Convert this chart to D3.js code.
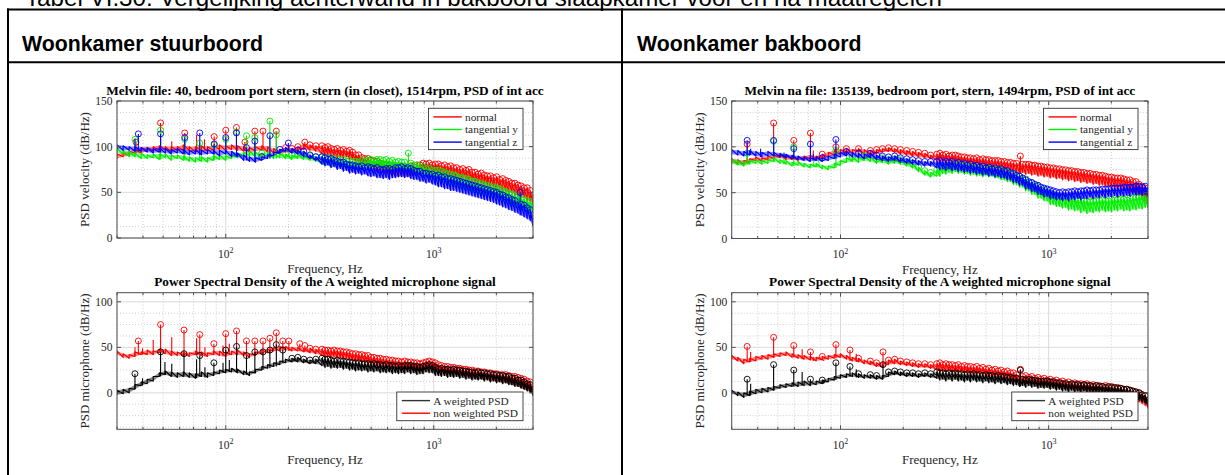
<!DOCTYPE html>
<html><head><meta charset="utf-8">
<script src="https://cdn.jsdelivr.net/npm/d3@7"></script>
<style>body{margin:0;background:#fff}svg{display:block}</style>
</head><body><svg id="c" width="1225" height="475"></svg>
<script>
// ---------------- DATA ----------------
const captionText = "Tabel VI.30: Vergelijking achterwand in bakboord slaapkamer voor en na maatregelen";
const headers = ["Woonkamer stuurboord", "Woonkamer bakboord"];
const titles = [
  "Melvin file: 40, bedroom port stern, stern (in closet), 1514rpm, PSD of int acc",
  "Power Spectral Density of the A weighted microphone signal",
  "Melvin na file: 135139, bedroom port, stern, 1494rpm, PSD of int acc",
  "Power Spectral Density of the A weighted microphone signal"
];
const yLabels = ["PSD velocity (dB/Hz)", "PSD microphone (dB/Hz)"];
const xLabel = "Frequency, Hz";
const velLegend = ["normal", "tangential y", "tangential z"];
const micLegend = ["A weighted PSD", "non weighted PSD"];
const velYTicks = [0, 50, 100, 150];
const micYTicks = [0, 50, 100];
const velYDomain = [0, 150];
const micYDomain = [-40, 110];
const xDomain = [30, 3000];

// analysis bins (Hz); per bin the trace minimum (lo) and maximum (hi) in dB
const freqs = [30,32.1,34.3,36.6,39.2,41.9,44.8,47.9,51.2,54.7,58.5,62.5,66.8,71.5,76.4,81.7,87.3,93.3,99.8,106.7,
  114,122,130,139,149,159,170,182,194,208,222,237,254,271,
  290,300,310,321,332,344,356,368,381,394,407,421,436,451,466,483,499,516,534,553,
  572,591,612,633,655,677,701,725,750,776,803,830,859,889,919,951,984,1018,1053,1089,
  1127,1166,1206,1247,1290,1335,1381,1429,1478,1529,1582,1636,1693,1751,1811,1874,1939,2006,2075,2146,
  2220,2297,2376,2458,2543,2631,2721,2815,2912,3000];

// --- stuurboord, velocity ---
const stbNormalLo = [87,89,90,93,93,95,95,96,97,94, 96,96,96,94,96,95,96,97,96,97, 96,95,94,95,96,94,93,92,94,93, 95,97,96,95,
  92,90,91,89,90,88,89,87,89,86, 86,83,83,80,80,77,75,75,72,73, 71,71,69,70,68,67,69,67,68,67, 69,69,71,70,72,71,72,70,68,69,
  67,68,66,67,64,65,63,64,61,62, 60,59,60,57,58,55,56,53,54,51, 51,49,50,47,46,44,44,41,40,37];
const stbNormalHi = [92,93,95,97,99,99,100,101,100,100, 100,102,100,100,101,100,101,102,101,102, 101,100,99,100,101,100,98,97,99,98, 100,103,102,101,
  101,99,100,98,97,98,96,97,95,96, 94,91,91,88,87,87,85,84,84,82, 81,80,80,78,79,77,78,78,76,79, 78,80,80,82,81,82,80,81,81,79,
  80,78,79,77,77,75,76,74,75,72, 72,70,71,69,68,68,66,67,64,65, 63,62,60,60,58,57,55,55,52,48];
const stbNormalPeaks = [[37,105],[48.6,126],[55,106],[63.5,115],[72.4,113],[79,108],[88,111],[100,118],[112.6,121],[123.6,105],[138,117],[151,117],[175,117],[240,105]];

const stbTanYLo = [93,92,89,89,87,87,88,86,88,85, 87,85,84,83,84,83,85,86,85,87, 88,89,90,89,88,89,87,88,87,86, 87,86,85,84,
  81,79,80,78,79,77,78,76,77,75, 76,74,76,75,77,75,75,76,77,75, 76,74,75,73,75,73,74,72,72,70, 71,69,69,67,67,65,65,63,62,60,
  60,58,58,56,56,54,54,52,52,50, 50,48,48,46,46,44,44,42,42,40, 39,37,36,34,33,31,30,28,27,25];
const stbTanYHi = [98,96,95,93,93,91,92,92,92,91, 91,90,89,88,89,88,90,91,90,92, 93,94,95,94,93,94,92,93,92,91, 92,91,90,89,
  89,88,87,88,86,87,85,86,84,85, 83,84,83,85,84,85,86,85,86,86, 85,86,84,85,83,84,83,83,81,82, 80,80,78,78,76,76,74,74,74,73,
  72,70,70,69,68,66,66,65,64,62, 62,60,60,58,58,56,56,55,54,52, 51,49,48,47,45,44,42,41,40,38];
const stbTanYPeaks = [[36.6,108],[48.6,118],[63.5,108],[75,104],[88,102],[100,108],[112.6,116],[125.8,112],[138,110],[163,128],[175,113],[755,93]];

const stbTanZLo = [98,96,96,95,95,94,93,94,93,92, 93,92,91,92,91,92,92,90,92,89, 89,85,84,83,85,87,90,93,95,93, 92,89,87,85,
  81,79,80,77,78,75,76,73,74,71, 72,70,71,69,70,68,67,68,66,66, 65,66,64,66,66,67,67,66,67,65, 64,64,62,62,60,61,59,58,56,56,
  54,54,52,52,51,50,49,48,47,46, 45,44,43,42,41,40,39,37,36,34, 33,31,30,28,27,25,23,21,19,13];
const stbTanZHi = [102,101,100,100,99,99,98,99,98,97, 98,97,96,97,96,97,96,96,96,95, 93,91,89,88,89,91,94,97,99,98, 96,95,91,89,
  89,88,86,87,85,84,83,83,81,80, 80,79,78,79,77,78,77,76,77,75, 75,76,76,75,77,77,78,76,77,76, 74,73,73,71,71,70,70,68,69,67,
  67,65,65,64,63,62,61,60,59,58, 57,56,55,54,53,52,51,50,48,47, 45,44,42,41,39,37,36,33,31,25];
const stbTanZPeaks = [[36.6,109],[38,114],[48.6,114],[63.5,110],[75,115],[88,103],[100,110],[112.6,115],[125.8,99],[138,106],[163,112],[200,104],[2600,50]];

// --- stuurboord, microphone ---
const stbAwLo = [-2,-1,0,4,8,10,13,18,20,18, 17,18,17,16,18,17,19,21,22,23, 22,20,19,22,25,27,29,31,33,34, 34,33,32,32,
  30,28,29,27,28,27,28,26,27,25, 26,24,25,24,25,23,24,23,24,22, 23,22,23,21,22,21,22,21,23,21, 22,20,21,21,23,22,22,19,19,18,
  19,17,18,17,18,16,17,15,16,14, 15,14,15,13,14,12,13,11,12,10, 11,9,9,7,7,5,4,2,1,-3];
const stbAwHi = [3,4,5,9,12,15,18,22,24,23, 22,23,22,21,23,22,23,25,26,27, 26,24,23,26,29,31,33,35,37,38, 39,37,36,37,
  38,37,37,36,35,36,35,35,34,34, 33,33,33,32,32,32,31,32,31,31, 30,31,30,30,29,30,29,30,30,30, 29,29,28,29,30,31,30,28,26,27,
  26,26,25,26,25,25,24,24,23,23, 22,23,22,22,21,21,20,20,19,19, 18,18,16,16,14,14,12,10,9,6];
const stbAwPeaks = [[36.6,21],[39.8,16],[48.6,45],[51,34],[55,32],[63,43],[72.4,37],[75,41],[79.4,28],[87.7,33],[97,33],[100,47],[104,36],[112.7,51],[125.8,41],[138,45],[151,45],[163,47],[175,53],[188,47]];

const stbNwLo = [42,39,38,40,42,42,42,44,43,41, 41,41,40,42,41,40,42,41,40,42, 42,41,39,41,43,44,46,46,47,46, 46,45,44,43,
  41,39,40,38,40,38,39,37,38,36, 36,34,35,33,34,32,32,30,31,29, 30,28,29,27,28,26,27,25,27,25, 26,24,25,24,27,26,27,24,24,21,
  21,20,21,19,20,18,19,17,18,16, 17,15,16,14,15,13,14,12,13,11, 11,10,9,8,7,6,4,3,1,-2];
const stbNwHi = [46,43,42,45,45,47,46,48,48,46, 45,45,44,46,45,44,46,46,44,46, 47,45,43,45,47,48,50,51,51,50, 50,49,49,48,
  48,47,47,46,47,46,46,45,45,44, 43,43,42,42,41,41,39,39,38,38, 37,37,36,36,35,35,34,35,34,34, 33,33,32,33,34,35,34,33,31,30,
  29,29,28,28,27,27,26,26,25,25, 24,24,23,23,22,22,21,21,20,20, 20,19,18,18,17,16,15,13,12,8];
const stbNwPeaks = [[36.6,50],[38,57],[39.8,49],[44.8,58],[48.6,75],[55,61],[63,69],[72.4,60],[75,64],[79.4,50],[87.7,54],[97,52],[100,65],[104,54],[112.7,68],[125.8,57],[138,57],[151,57],[163,60],[175,66],[188,57],[201,57],[227,54],[240,52]];

// --- bakboord, velocity ---
const bbkNormalLo = [82,81,80,83,85,84,86,87,88,86, 86,85,86,87,86,87,89,91,92,93, 93,94,92,91,92,94,95,94,92,91, 90,89,88,87,
  85,83,84,82,83,81,83,81,82,80, 81,79,80,78,79,77,78,75,76,74, 75,73,74,72,73,71,72,71,72,70, 71,69,70,68,69,67,68,66,67,65,
  66,64,65,63,64,62,63,61,62,60, 61,59,60,58,59,57,57,55,56,54, 55,53,54,51,51,48,47,43,40,34];
const bbkNormalHi = [87,86,85,87,89,88,90,91,92,91, 90,89,90,91,90,92,94,96,97,98, 97,98,97,96,97,98,99,98,97,96, 95,94,93,91,
  92,93,91,92,90,91,91,90,89,89, 88,88,87,88,86,87,86,86,85,85, 85,84,84,83,83,82,82,83,81,81, 81,80,80,79,79,78,78,77,77,76,
  76,75,75,74,74,73,73,72,72,71, 71,70,70,69,69,68,67,67,66,66, 66,65,64,64,62,62,59,57,55,50];
const bbkNormalPeaks = [[35.6,103],[47.7,126],[59.6,107],[71.7,115],[74,96],[95,100],[731,90]];

const bbkTanYLo = [82,80,79,81,82,81,82,84,82,81, 79,80,78,77,78,76,75,77,80,83, 84,83,85,84,82,83,81,82,81,79, 77,73,69,67,
  68,68,71,70,72,71,73,71,72,70, 71,69,70,68,69,67,69,67,68,66, 66,64,64,62,62,59,59,56,56,52, 52,48,48,44,44,41,41,37,37,35,
  35,33,34,31,32,30,31,28,30,27, 29,28,30,29,31,29,30,29,31,30, 32,30,31,30,32,31,33,32,34,35];
const bbkTanYHi = [87,85,84,85,86,85,86,88,86,85, 83,84,82,81,82,80,79,82,85,88, 89,88,90,89,87,88,86,87,86,84, 82,78,74,72,
  75,77,78,80,79,81,80,81,79,80, 78,79,77,78,76,77,76,77,75,76, 75,75,73,73,71,71,68,68,65,65, 61,61,57,57,53,53,50,50,47,47,
  45,46,44,44,43,43,42,42,41,41, 40,41,41,42,42,42,41,43,42,43, 43,43,42,44,44,45,45,46,46,47];
const bbkTanYPeaks = [[35.6,93],[47.7,106],[53.5,94],[59.6,100],[95,96]];

const bbkTanZLo = [92,91,90,91,90,89,90,90,89,88, 87,86,85,84,85,84,85,87,89,90, 89,88,87,88,86,85,84,85,83,82, 81,80,79,79,
  77,75,76,74,76,74,75,73,74,72, 73,71,72,70,71,69,70,68,69,67, 68,66,66,64,64,61,61,58,58,54, 54,51,51,48,48,45,46,43,44,42,
  43,41,43,41,43,42,44,42,44,43, 45,43,45,44,46,44,46,45,47,45, 47,46,47,46,48,47,48,47,48,46];
const bbkTanZHi = [97,96,95,96,95,94,95,94,93,92, 91,90,89,88,89,88,90,92,94,95, 94,93,92,93,91,90,89,90,88,87, 86,85,84,84,
  84,85,83,84,83,84,82,83,81,82, 80,81,79,80,78,79,77,78,76,77, 75,76,74,74,72,71,69,68,66,64, 62,61,59,58,56,55,54,53,52,51,
  50,51,50,51,51,52,51,52,52,53, 52,53,53,53,54,54,54,55,55,55, 55,56,56,56,56,57,57,56,57,56];
const bbkTanZPeaks = [[35.6,107],[37,98],[41.3,98],[47.7,107],[53.5,93],[59.6,98],[65.4,88],[71.7,103],[74,92],[95,108]];

// --- bakboord, microphone ---
const bbkAwLo = [-1,-3,-5,-3,-1,0,1,3,5,6, 7,7,8,8,9,10,12,14,16,17, 18,17,16,16,15,15,18,20,19,18, 18,17,18,17,
  16,14,15,13,15,13,15,13,14,12, 14,12,14,12,13,11,13,11,12,10, 12,10,11,9,10,8,9,7,8,6, 8,6,7,5,6,5,6,4,5,3,
  4,2,3,1,3,1,2,0,2,1, 1,0,1,-1,0,-1,0,-2,-1,-3, -2,-4,-3,-5,-6,-7,-8,-10,-11,-15];
const bbkAwHi = [3,1,0,2,4,5,6,7,9,10, 11,12,13,12,13,14,16,18,20,21, 22,21,20,20,19,19,23,24,23,22, 22,21,22,21,
  23,22,22,21,22,21,22,21,21,20, 21,20,21,20,20,19,20,19,19,18, 19,18,18,17,17,16,16,15,15,14, 15,14,14,13,13,13,13,12,12,11,
  11,10,10,9,10,9,9,8,9,8, 8,7,8,7,7,6,7,6,6,5, 5,4,4,3,2,1,0,-2,-3,-7];
const bbkAwPeaks = [[35.6,15],[37,10],[47.7,31],[59.6,25],[65.4,23],[71.7,15],[83,13],[95,33],[111,29],[119,26],[160,31],[731,25]];

const bbkNwLo = [37,35,32,34,35,37,37,39,40,41, 39,38,37,36,35,36,37,38,39,37, 35,34,32,31,29,28,31,32,31,30, 29,28,28,27,
  25,23,24,23,24,22,23,22,23,21, 22,20,21,20,21,19,20,18,19,17, 18,16,17,15,15,13,13,11,12,10, 11,9,10,8,9,7,8,6,7,5,
  6,4,5,3,4,2,3,2,3,1, 2,0,1,0,1,-1,0,-2,-1,-3, -2,-4,-4,-6,-7,-9,-10,-12,-14,-17];
const bbkNwHi = [41,39,37,38,40,41,42,43,44,45, 43,42,41,40,39,40,41,42,43,41, 39,38,36,35,33,33,36,37,35,34, 33,32,32,31,
  32,33,31,32,31,31,30,31,29,30, 29,29,28,29,27,28,26,27,25,26, 24,25,23,24,22,22,20,20,18,19, 17,18,16,17,15,16,14,15,13,14,
  12,13,11,12,10,11,10,10,9,10, 8,9,8,8,7,8,6,7,5,6, 5,4,4,3,2,1,0,-2,-3,-7];
const bbkNwPeaks = [[35.6,51],[37,45],[47.7,61],[59.6,52],[65.4,48],[71.7,45],[74,39],[83,35],[95,53],[111,47],[119,43],[160,45],[731,26]];

// ---------------- STYLE / LAYOUT ----------------
const serif = '"Liberation Serif","Times New Roman",serif';
const sans = '"Liberation Sans",Arial,sans-serif';
const RED = "#ff0000", GREEN = "#00ee00", BLUE = "#0000ff", BLACK = "#000000";
const peakMinDistHz = 10;

const panels = [
  {x0:117, x1:533, y0:101, y1:238, yDomain:velYDomain, yTicks:velYTicks, title:titles[0], yLabel:yLabels[0], legendPos:"top",
   series:[
     {color:RED, lo:stbNormalLo, hi:stbNormalHi, peaks:stbNormalPeaks},
     {color:GREEN, lo:stbTanYLo, hi:stbTanYHi, peaks:stbTanYPeaks},
     {color:BLUE, lo:stbTanZLo, hi:stbTanZHi, peaks:stbTanZPeaks}],
   legend:[[velLegend[0],RED],[velLegend[1],GREEN],[velLegend[2],BLUE]]},
  {x0:117, x1:533, y0:292.7, y1:429.3, yDomain:micYDomain, yTicks:micYTicks, title:titles[1], yLabel:yLabels[1], legendPos:"bottom",
   series:[
     {color:RED, lo:stbNwLo, hi:stbNwHi, peaks:stbNwPeaks},
     {color:BLACK, lo:stbAwLo, hi:stbAwHi, peaks:stbAwPeaks}],
   legend:[[micLegend[0],"#333"],[micLegend[1],RED]]},
  {x0:731.7, x1:1148, y0:101, y1:238.5, yDomain:velYDomain, yTicks:velYTicks, title:titles[2], yLabel:yLabels[0], legendPos:"top",
   series:[
     {color:RED, lo:bbkNormalLo, hi:bbkNormalHi, peaks:bbkNormalPeaks},
     {color:GREEN, lo:bbkTanYLo, hi:bbkTanYHi, peaks:bbkTanYPeaks},
     {color:BLUE, lo:bbkTanZLo, hi:bbkTanZHi, peaks:bbkTanZPeaks}],
   legend:[[velLegend[0],RED],[velLegend[1],GREEN],[velLegend[2],BLUE]]},
  {x0:731.7, x1:1148, y0:292.7, y1:429.3, yDomain:micYDomain, yTicks:micYTicks, title:titles[3], yLabel:yLabels[1], legendPos:"bottom",
   series:[
     {color:RED, lo:bbkNwLo, hi:bbkNwHi, peaks:bbkNwPeaks},
     {color:BLACK, lo:bbkAwLo, hi:bbkAwHi, peaks:bbkAwPeaks}],
   legend:[[micLegend[0],"#333"],[micLegend[1],RED]]}
];

// ---------------- DRAW ----------------
const svg = d3.select("#c");
svg.append("rect").attr("width",1225).attr("height",475).attr("fill","#fff");

// document table
svg.append("text").attr("x",25).attr("y",5.5).attr("font-family",sans).attr("font-size",24.2)
  .attr("fill","#000").text(captionText);
const tbl = svg.append("g").attr("stroke","#000").attr("stroke-width",2);
tbl.append("line").attr("x1",7).attr("x2",1225).attr("y1",9.5).attr("y2",9.5);
tbl.append("line").attr("x1",7).attr("x2",1225).attr("y1",62.3).attr("y2",62.3);
tbl.append("line").attr("x1",8).attr("x2",8).attr("y1",8.5).attr("y2",475);
tbl.append("line").attr("x1",622).attr("x2",622).attr("y1",8.5).attr("y2",475);
[[22,headers[0]],[637,headers[1]]].forEach(([x,t])=>{
  svg.append("text").attr("x",x).attr("y",51).attr("font-family",sans).attr("font-weight","bold")
    .attr("font-size",21.3).attr("fill","#000").text(t);
});

function binPoints(lo, hi){
  const pts = [];
  const n = Math.min(freqs.length, lo.length, hi.length);
  for (let i=0;i<n;i++){ pts.push({f:freqs[i], v:lo[i], o:2*i}); pts.push({f:freqs[i], v:hi[i], o:2*i+1}); }
  return pts;
}
function findPeaks(pts, minDist){
  const cand = [];
  for (let i=1;i<pts.length-1;i++){
    if (pts[i].v > pts[i-1].v && pts[i].v >= pts[i+1].v) cand.push(pts[i]);
  }
  cand.sort((a,b)=>b.v-a.v);
  const acc = [];
  cand.forEach(p=>{ if (acc.every(q=>Math.abs(q.f-p.f)>=minDist)) acc.push(p); });
  return acc;
}

panels.forEach((P, pi)=>{
  const g = svg.append("g");
  const x = d3.scaleLog().domain(xDomain).range([P.x0, P.x1]);
  const y = d3.scaleLinear().domain(P.yDomain).range([P.y1, P.y0]);
  const clipId = "clip"+pi;
  g.append("clipPath").attr("id",clipId).append("rect")
    .attr("x",P.x0).attr("y",P.y0).attr("width",P.x1-P.x0).attr("height",P.y1-P.y0);

  // grid
  const xt = x.ticks();
  const xMajor = xt.filter(v=>Math.abs(Math.log10(v)-Math.round(Math.log10(v)))<1e-9);
  const xMinor = xt.filter(v=>!xMajor.includes(v));
  const yMinor = d3.range(-50, 160, 12.5).filter(v=>!P.yTicks.includes(v) && v>P.yDomain[0] && v<P.yDomain[1]);
  const grid = g.append("g");
  xMinor.forEach(v=>grid.append("line").attr("x1",x(v)).attr("x2",x(v)).attr("y1",P.y0).attr("y2",P.y1)
    .attr("stroke","#c4c4c4").attr("stroke-width",0.8).attr("stroke-dasharray","1,2"));
  yMinor.forEach(v=>grid.append("line").attr("x1",P.x0).attr("x2",P.x1).attr("y1",y(v)).attr("y2",y(v))
    .attr("stroke","#c4c4c4").attr("stroke-width",0.8).attr("stroke-dasharray","1,2"));
  xMajor.forEach(v=>grid.append("line").attr("x1",x(v)).attr("x2",x(v)).attr("y1",P.y0).attr("y2",P.y1)
    .attr("stroke","#dadada").attr("stroke-width",1));
  P.yTicks.forEach(v=>grid.append("line").attr("x1",P.x0).attr("x2",P.x1).attr("y1",y(v)).attr("y2",y(v))
    .attr("stroke","#dadada").attr("stroke-width",1));

  // series
  const data = g.append("g").attr("clip-path",`url(#${clipId})`);
  const line = d3.line().x(d=>x(d.f)).y(d=>y(d.v));
  P.series.forEach(s=>{
    const n = Math.min(freqs.length, s.lo.length, s.hi.length);
    const idx = d3.range(n);
    // min-max envelope of the dense spectrum
    data.append("path").attr("d", d3.area().x(i=>x(freqs[i])).y0(i=>y(s.lo[i])).y1(i=>y(s.hi[i]))(idx))
      .attr("fill",s.color).attr("fill-opacity",0.45).attr("stroke","none");
    const pts = binPoints(s.lo, s.hi);
    data.append("path").attr("d",line(pts)).attr("fill","none").attr("stroke",s.color)
      .attr("stroke-width",1.15).attr("stroke-linejoin","round");
    // spectral peaks: narrow stems rising from the nearest bin
    s.peaks.forEach(([f,v])=>{
      const i = d3.minIndex(freqs, q=>Math.abs(Math.log(q/f)));
      data.append("line").attr("x1",x(f)).attr("x2",x(f)).attr("y1",y(s.lo[i])).attr("y2",y(v))
        .attr("stroke",s.color).attr("stroke-width",1.1);
    });
    const all = pts.concat(s.peaks.map(([f,v])=>({f,v,o:-1}))).sort((a,b)=>(a.f-b.f)||(a.o-b.o));
    const pk = findPeaks(all, peakMinDistHz);
    data.append("g").selectAll("circle").data(pk).join("circle")
      .attr("cx",d=>x(d.f)).attr("cy",d=>y(d.v)).attr("r",3)
      .attr("fill","none").attr("stroke",s.color).attr("stroke-width",0.9);
  });

  // box & ticks
  const ax = g.append("g").attr("stroke","#4d4d4d").attr("stroke-width",1);
  ax.append("rect").attr("x",P.x0).attr("y",P.y0).attr("width",P.x1-P.x0).attr("height",P.y1-P.y0).attr("fill","none");
  xt.forEach(v=>{
    const len = xMajor.includes(v)?4:2.5;
    ax.append("line").attr("x1",x(v)).attr("x2",x(v)).attr("y1",P.y1).attr("y2",P.y1-len);
    ax.append("line").attr("x1",x(v)).attr("x2",x(v)).attr("y1",P.y0).attr("y2",P.y0+len);
  });
  P.yTicks.forEach(v=>{
    ax.append("line").attr("x1",P.x0).attr("x2",P.x0+4).attr("y1",y(v)).attr("y2",y(v));
    ax.append("line").attr("x1",P.x1).attr("x2",P.x1-4).attr("y1",y(v)).attr("y2",y(v));
  });

  // tick labels
  P.yTicks.forEach(v=>{
    g.append("text").attr("x",P.x0-4.5).attr("y",y(v)).attr("dy","0.35em").attr("text-anchor","end")
      .attr("font-family",serif).attr("font-size",11.5).attr("fill","#262626").text(v);
  });
  xMajor.forEach(v=>{
    const t = g.append("text").attr("x",x(v)).attr("y",P.y1+19.5).attr("text-anchor","middle")
      .attr("font-family",serif).attr("font-size",11.5).attr("fill","#262626");
    t.append("tspan").text("10");
    t.append("tspan").attr("dy",-4.5).attr("font-size",8).text(Math.round(Math.log10(v)));
  });
  // labels
  g.append("text").attr("x",(P.x0+P.x1)/2).attr("y",P.y1+35).attr("text-anchor","middle")
    .attr("font-family",serif).attr("font-size",13).attr("fill","#262626").text(xLabel);
  g.append("text").attr("transform",`translate(${P.x0-32.5},${(P.y0+P.y1)/2}) rotate(-90)`)
    .attr("dy","0.35em").attr("text-anchor","middle")
    .attr("font-family",serif).attr("font-size",13).attr("fill","#262626").text(P.yLabel);
  g.append("text").attr("x",(P.x0+P.x1)/2).attr("y",P.y0-6.5).attr("text-anchor","middle")
    .attr("font-family",serif).attr("font-weight","bold").attr("font-size",13.3).attr("fill","#000").text(P.title);

  // legend
  const lg = g.append("g");
  const rowH = 12.6;
  const box = lg.append("rect").attr("fill","#fff").attr("stroke","#333").attr("stroke-width",0.9);
  const texts = P.legend.map(([name])=>lg.append("text").attr("font-family",serif).attr("font-size",11.3)
    .attr("fill","#262626").text(name));
  const tw = d3.max(texts, t=>t.node().getComputedTextLength());
  const bw = 36.5 + tw + 5;
  const bh = P.legend.length*rowH + 3.5;
  const bx = P.x1 - 10 - bw;
  const by = P.legendPos==="top" ? P.y0 + 7.3 : P.y1 - 8.6 - bh;
  box.attr("x",bx).attr("y",by).attr("width",bw).attr("height",bh);
  P.legend.forEach(([name,col],i)=>{
    const cy = by + 2 + rowH*(i+0.5) + 0.3;
    lg.append("line").attr("x1",bx+5).attr("x2",bx+33.3).attr("y1",cy).attr("y2",cy)
      .attr("stroke",col).attr("stroke-width",1.4);
    texts[i].attr("x",bx+36.5).attr("y",cy).attr("dy","0.35em");
  });
});
</script>
</body></html>
